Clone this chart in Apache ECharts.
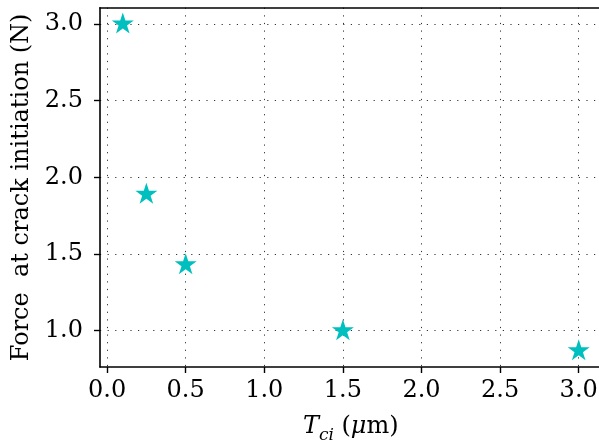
<!DOCTYPE html>
<html>
<head>
<meta charset="utf-8">
<script src="https://cdn.jsdelivr.net/npm/echarts@6/dist/echarts.min.js"></script>
<style>html,body{margin:0;padding:0;background:#fff;}#c{width:599px;height:441px;}</style>
</head>
<body>
<div id="c"></div>
<script>
const tciValues = [0.1, 0.25, 0.5, 1.5, 3.0];
const forceValues = [3.0, 1.89, 1.43, 1.0, 0.87];
const xTicks = [0.0, 0.5, 1.0, 1.5, 2.0, 2.5, 3.0];
const yTicks = [1.0, 1.5, 2.0, 2.5, 3.0];

const starPath = 'path://M0 -1 L-0.2245 -0.309 L-0.951 -0.309 L-0.3633 0.118 L-0.5878 0.809 L0 0.382 L0.5878 0.809 L0.3633 0.118 L0.951 -0.309 L0.2245 -0.309 Z';
const font = 'DejaVu Serif';
const chart = echarts.init(document.getElementById('c'), null, {renderer: 'canvas'});
const gridLine = {show: true, lineStyle: {color: '#333', width: 1, type: [1.2, 6.4]}};
chart.setOption({
  animation: false,
  backgroundColor: '#fff',
  grid: {left: 100, top: 7.7, width: 501.5, height: 359.3, show: false,
         containLabel: false, outerBoundsMode: 'none'},
  xAxis: [{
    type: 'value', min: -0.045, max: 3.145,
    axisLine: {show: true, onZero: false, lineStyle: {color: '#000', width: 1.6}},
    axisTick: {show: true, length: 6, customValues: xTicks, lineStyle: {color: '#000', width: 1.4}},
    axisLabel: {customValues: xTicks, margin: 12, color: '#000', fontFamily: font, fontSize: 24, formatter: v => v.toFixed(1), hideOverlap: false},
    splitLine: gridLine,
    name: '{t|T}{s|ci} ({m|μ}m)',
    nameLocation: 'middle', nameGap: 43,
    nameTextStyle: {color: '#000', fontFamily: font, fontSize: 24,
      rich: {
        t: {fontFamily: font, fontStyle: 'italic', fontSize: 24, lineHeight: 34},
        s: {fontFamily: font, fontStyle: 'italic', fontSize: 17, lineHeight: 34, verticalAlign: 'bottom'},
        m: {fontFamily: font, fontStyle: 'italic', fontSize: 24, lineHeight: 34}
      }}
  }, {
    type: 'value', position: 'top', min: -0.045, max: 3.145,
    axisLine: {show: true, onZero: false, lineStyle: {color: '#000', width: 1.6}},
    axisTick: {show: false}, axisLabel: {show: false}, splitLine: {show: false}
  }],
  yAxis: {
    type: 'value', min: 0.7635, max: 3.1065,
    axisLine: {show: true, onZero: false, lineStyle: {color: '#000', width: 1.6}},
    axisTick: {show: true, length: 6, customValues: yTicks, lineStyle: {color: '#000', width: 1.4}},
    axisLabel: {customValues: yTicks, margin: 17, color: '#000', fontFamily: font, fontSize: 24, formatter: v => v.toFixed(1), hideOverlap: false},
    splitLine: gridLine,
    name: 'Force  at crack initiation (N)',
    nameLocation: 'middle', nameGap: 59,
    nameTextStyle: {color: '#000', fontFamily: font, fontSize: 24}
  },
  series: [{
    type: 'scatter',
    xAxisIndex: 0,
    data: tciValues.map((x, i) => [x, forceValues[i]]),
    symbol: starPath,
    symbolSize: [22, 21],
    symbolOffset: [0, -1],
    itemStyle: {color: '#00BFBF', opacity: 1},
    clip: false
  }]
});
</script>
</body>
</html>
